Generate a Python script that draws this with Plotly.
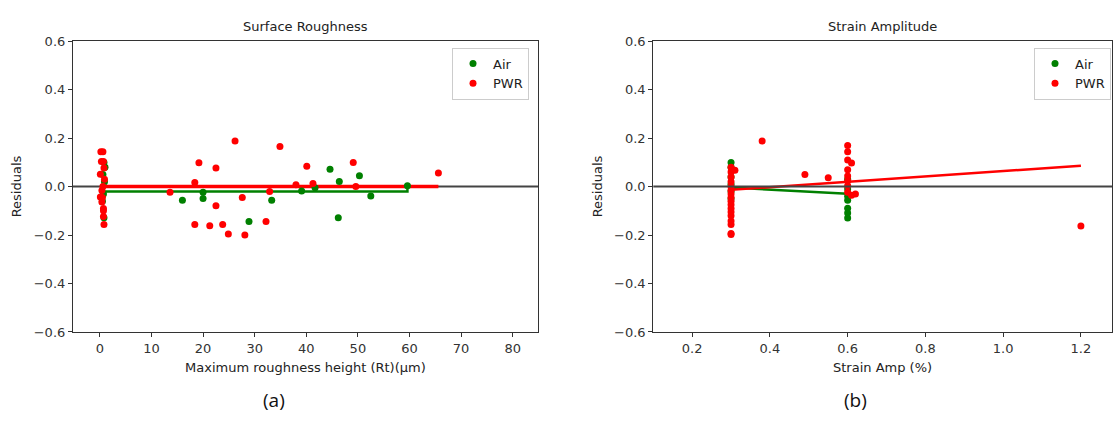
import plotly.graph_objects as go

W, H = 1113, 421

# ---------------- Panel (a): Surface Roughness ----------------
air_rt_x = [0.8, 1.0, 0.6, 0.9, 0.5, 0.8, 0.7, 16.0, 20.0, 20.0, 28.9, 33.3, 39.1,
            41.7, 44.6, 46.4, 46.2, 50.3, 52.5, 59.6]
air_rt_y = [0.100, 0.080, 0.050, 0.020, -0.060, -0.128, -0.030, -0.056, -0.049, -0.023,
            -0.144, -0.056, -0.018, -0.005, 0.072, 0.021, -0.128, 0.045, -0.039, 0.004]

pwr_rt_x = [0.2, 0.6, 0.3, 0.7, 0.8, 0.1, 0.9, 0.6, 0.4, 0.1, 0.5, 0.4, 0.7, 0.7, 0.7, 0.8,
            13.6, 18.4, 19.2, 18.4, 21.3, 22.5, 22.5, 23.8, 24.9, 26.2, 27.6, 28.1, 32.2,
            32.9, 34.9, 38.0, 40.1, 41.3, 49.1, 49.6, 65.6]
pwr_rt_y = [0.144, 0.144, 0.104, 0.104, 0.077, 0.051, 0.030, 0.000, -0.016, -0.043, -0.045,
            -0.063, -0.090, -0.100, -0.123, -0.156,
            -0.023, 0.017, 0.099, -0.156, -0.162, 0.077, -0.079, -0.156, -0.196, 0.188,
            -0.045, -0.200, -0.144, -0.020, 0.166, 0.008, 0.084, 0.013, 0.100, 0.000, 0.056]

air_rt_fit_x = [0.1, 59.6, 59.6]
air_rt_fit_y = [-0.020, -0.020, -0.004]
pwr_rt_fit_x = [0.1, 65.6]
pwr_rt_fit_y = [0.000, 0.000]

# ---------------- Panel (b): Strain Amplitude ----------------
air_sa_x = [0.3, 0.3, 0.3, 0.3, 0.3, 0.3, 0.6, 0.6, 0.6, 0.6, 0.6, 0.6, 0.6]
air_sa_y = [0.100, 0.080, 0.040, 0.010, -0.020, -0.050, 0.030, -0.010, -0.056, -0.089,
            -0.109, -0.129, -0.040]

pwr_sa_x = [0.3, 0.3, 0.31, 0.3, 0.3, 0.3, 0.3, 0.3, 0.3, 0.3, 0.3, 0.3, 0.3, 0.3, 0.3, 0.3,
            0.3, 0.3, 0.38, 0.49, 0.55,
            0.6, 0.6, 0.6, 0.61, 0.6, 0.6, 0.6, 0.6, 0.6, 0.61, 0.62, 1.2]
pwr_sa_y = [0.080, 0.060, 0.068, 0.040, 0.020, 0.000, -0.015, -0.030, -0.045, -0.060,
            -0.075, -0.090, -0.105, -0.120, -0.142, -0.156, -0.193, -0.198, 0.188, 0.050,
            0.037,
            0.170, 0.144, 0.110, 0.097, 0.070, 0.044, 0.024, 0.004, -0.023, -0.036, -0.030,
            -0.163]

air_sa_fit_x = [0.3, 0.6]
air_sa_fit_y = [-0.004, -0.029]
pwr_sa_fit_x = [0.3, 1.2]
pwr_sa_fit_y = [-0.013, 0.086]

y_ticks = [-0.6, -0.4, -0.2, 0.0, 0.2, 0.4, 0.6]
y_ticktext = ["\u22120.6", "\u22120.4", "\u22120.2", "0.0", "0.2", "0.4", "0.6"]
rt_ticks = [0, 10, 20, 30, 40, 50, 60, 70, 80]
sa_ticks = [0.2, 0.4, 0.6, 0.8, 1.0, 1.2]
sa_ticktext = ["0.2", "0.4", "0.6", "0.8", "1.0", "1.2"]

GREEN = "#008000"
RED = "#ff0000"
FONT = "DejaVu Sans"
AX = "#333333"

fig = go.Figure()

# panel a
fig.add_trace(go.Scatter(x=air_rt_fit_x, y=air_rt_fit_y, mode="lines",
                         line=dict(color=GREEN, width=2.5), showlegend=False,
                         xaxis="x", yaxis="y", hoverinfo="skip"))
fig.add_trace(go.Scatter(x=pwr_rt_fit_x, y=pwr_rt_fit_y, mode="lines",
                         line=dict(color=RED, width=3.5), showlegend=False,
                         xaxis="x", yaxis="y", hoverinfo="skip"))
fig.add_trace(go.Scatter(x=air_rt_x, y=air_rt_y, mode="markers", name="Air",
                         marker=dict(color=GREEN, size=7), xaxis="x", yaxis="y",
                         legend="legend"))
fig.add_trace(go.Scatter(x=pwr_rt_x, y=pwr_rt_y, mode="markers", name="PWR",
                         marker=dict(color=RED, size=7), xaxis="x", yaxis="y",
                         legend="legend"))

# panel b
fig.add_trace(go.Scatter(x=air_sa_fit_x, y=air_sa_fit_y, mode="lines",
                         line=dict(color=GREEN, width=2.5), showlegend=False,
                         xaxis="x2", yaxis="y2", hoverinfo="skip"))
fig.add_trace(go.Scatter(x=air_sa_x, y=air_sa_y, mode="markers", name="Air",
                         marker=dict(color=GREEN, size=7), xaxis="x2", yaxis="y2",
                         legend="legend2"))
fig.add_trace(go.Scatter(x=pwr_sa_x, y=pwr_sa_y, mode="markers", name="PWR",
                         marker=dict(color=RED, size=7), xaxis="x2", yaxis="y2",
                         legend="legend2"))
fig.add_trace(go.Scatter(x=pwr_sa_fit_x, y=pwr_sa_fit_y, mode="lines",
                         line=dict(color=RED, width=2.5), showlegend=False,
                         xaxis="x2", yaxis="y2", hoverinfo="skip"))

ydom = [1 - 337 / H, 1 - 35.5 / H]
axis_common = dict(showline=True, mirror=True, linecolor=AX, linewidth=1.2,
                   ticks="outside", ticklen=4, tickcolor=AX, tickwidth=1,
                   showgrid=False, zeroline=False,
                   tickfont=dict(family=FONT, size=13, color="#333333"))

fig.update_layout(
    width=W, height=H,
    margin=dict(l=0, r=0, t=0, b=0),
    paper_bgcolor="white", plot_bgcolor="white",
    font=dict(family=FONT, color="#222222"),
    xaxis=dict(domain=[73 / W, 538 / W], range=[-5.2, 84.9], anchor="y",
               tickvals=rt_ticks, **axis_common),
    yaxis=dict(domain=ydom, range=[-0.6, 0.6], anchor="x",
               tickvals=y_ticks, ticktext=y_ticktext, **axis_common),
    xaxis2=dict(domain=[653.3 / W, 1112 / W], range=[0.1, 1.28], anchor="y2",
                tickvals=sa_ticks, ticktext=sa_ticktext, **axis_common),
    yaxis2=dict(domain=ydom, range=[-0.6, 0.6], anchor="x2",
                tickvals=y_ticks, ticktext=y_ticktext, **axis_common),
    legend=dict(x=529 / W, y=1 - 42 / H, xanchor="right", yanchor="top",
                bgcolor="white", bordercolor="#cccccc", borderwidth=1,
                font=dict(family=FONT, size=13, color="#222222")),
    legend2=dict(x=1111 / W, y=1 - 42 / H, xanchor="right", yanchor="top",
                 bgcolor="white", bordercolor="#cccccc", borderwidth=1,
                 font=dict(family=FONT, size=13, color="#222222")),
    showlegend=True,
)

# horizontal zero lines
fig.add_shape(type="line", xref="x domain", yref="y", x0=0, x1=1, y0=0, y1=0,
              line=dict(color="#444444", width=2), layer="below")
fig.add_shape(type="line", xref="x2 domain", yref="y2", x0=0, x1=1, y0=0, y1=0,
              line=dict(color="#444444", width=2), layer="above")

ann = [
    dict(text="Surface Roughness", x=305.5 / W, y=1 - 20 / H, size=13),
    dict(text="Strain Amplitude", x=882 / W, y=1 - 20 / H, size=13),
    dict(text="Maximum roughness height (Rt)(\u03bcm)", x=305.5 / W, y=1 - 374 / H, size=13),
    dict(text="Strain Amp (%)", x=882 / W, y=1 - 374 / H, size=13),
]
for a in ann:
    fig.add_annotation(text=a["text"], x=a["x"], y=a["y"], xref="paper", yref="paper",
                       xanchor="center", yanchor="middle", showarrow=False,
                       font=dict(family=FONT, size=a["size"], color="#222222"))
for xx, txt in [(16, "Residuals"), (597, "Residuals")]:
    fig.add_annotation(text=txt, x=xx / W, y=1 - 186 / H, xref="paper", yref="paper",
                       xanchor="center", yanchor="middle", showarrow=False, textangle=-90,
                       font=dict(family=FONT, size=13, color="#222222"))
for xx, txt in [(274, "(a)"), (855, "(b)")]:
    fig.add_annotation(text=txt, x=xx / W, y=1 - 408 / H, xref="paper", yref="paper",
                       xanchor="center", yanchor="middle", showarrow=False,
                       font=dict(family="Open Sans", size=19, color="#111111"))

fig.write_html("out.html",
               config={"displayModeBar": False},
               post_script="document.body.style.margin='0px';"
                           "document.body.style.overflow='hidden';")
